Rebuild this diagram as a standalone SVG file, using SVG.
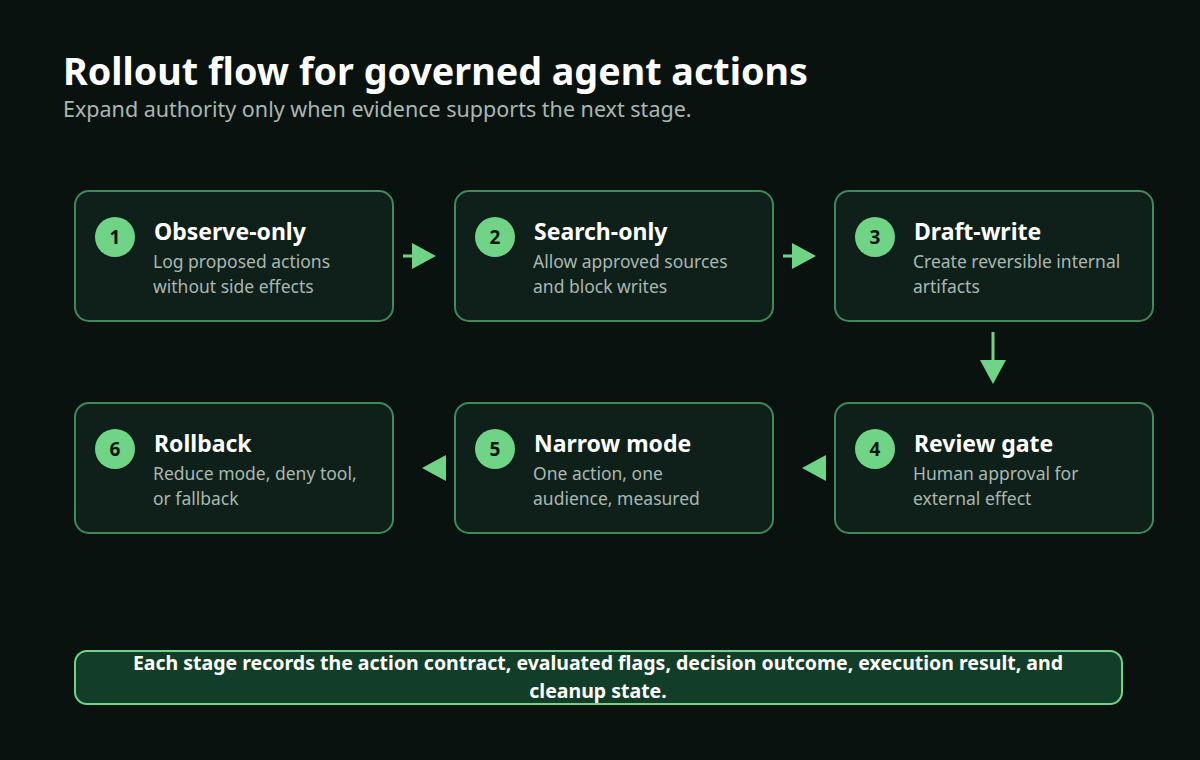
<svg xmlns="http://www.w3.org/2000/svg" width="1200" height="760" viewBox="0 0 1200 760">
<defs>
<style>
.box{fill:#0f1f1a;stroke:#3f8a5a;stroke-width:2}
.num{fill:#6fd485}
.nt{font:bold 19px "Noto Sans",sans-serif;fill:#0a1410;text-anchor:middle}
.t{font:bold 23px "Noto Sans",sans-serif;fill:#ffffff}
.d{font:17.5px "Noto Sans",sans-serif;fill:#a9b8b0}
.c{stroke:#6fd485;stroke-width:3;fill:none}
.h{fill:#6fd485}
</style>
</defs>
<rect width="1200" height="760" fill="#0a1210"/>
<text x="63" y="85" font-family="Noto Sans,sans-serif" font-weight="bold" font-size="37.7" fill="#ffffff">Rollout flow for governed agent actions</text>
<text x="63" y="117" font-family="Noto Sans,sans-serif" font-size="21.5" fill="#a9b8b0">Expand authority only when evidence supports the next stage.</text>
<g id="n1"><rect class="box" x="75" y="191" width="318" height="130" rx="14"/><circle class="num" cx="115" cy="237" r="20"/><text class="nt" x="115" y="244">1</text><text class="t" x="154" y="240">Observe-only</text><text class="d" x="153" y="268">Log proposed actions</text><text class="d" x="153" y="293">without side effects</text></g>
<g id="n2"><rect class="box" x="455" y="191" width="318" height="130" rx="14"/><circle class="num" cx="495" cy="237" r="20"/><text class="nt" x="495" y="244">2</text><text class="t" x="534" y="240">Search-only</text><text class="d" x="533" y="268">Allow approved sources</text><text class="d" x="533" y="293">and block writes</text></g>
<g id="n3"><rect class="box" x="835" y="191" width="318" height="130" rx="14"/><circle class="num" cx="875" cy="237" r="20"/><text class="nt" x="875" y="244">3</text><text class="t" x="914" y="240">Draft-write</text><text class="d" x="913" y="268">Create reversible internal</text><text class="d" x="913" y="293">artifacts</text></g>
<g id="n4"><rect class="box" x="835" y="403" width="318" height="130" rx="14"/><circle class="num" cx="875" cy="449" r="20"/><text class="nt" x="875" y="456">4</text><text class="t" x="914" y="452">Review gate</text><text class="d" x="913" y="480">Human approval for</text><text class="d" x="913" y="505">external effect</text></g>
<g id="n5"><rect class="box" x="455" y="403" width="318" height="130" rx="14"/><circle class="num" cx="495" cy="449" r="20"/><text class="nt" x="495" y="456">5</text><text class="t" x="534" y="452">Narrow mode</text><text class="d" x="533" y="480">One action, one</text><text class="d" x="533" y="505">audience, measured</text></g>
<g id="n6"><rect class="box" x="75" y="403" width="318" height="130" rx="14"/><circle class="num" cx="115" cy="449" r="20"/><text class="nt" x="115" y="456">6</text><text class="t" x="154" y="452">Rollback</text><text class="d" x="153" y="480">Reduce mode, deny tool,</text><text class="d" x="153" y="505">or fallback</text></g>
<g id="connectors">
<line class="c" x1="403" y1="256" x2="414" y2="256"/><path class="h" d="M412,243 L436,256 L412,269 z"/>
<line class="c" x1="783" y1="256" x2="794" y2="256"/><path class="h" d="M792,243 L816,256 L792,269 z"/>
<line class="c" x1="993" y1="332" x2="993" y2="362"/><path class="h" d="M980,360 L993,384 L1006,360 z"/>
<path class="h" d="M826,455 L802,468 L826,481 z"/>
<path class="h" d="M446,455 L422,468 L446,481 z"/>
</g>
<g id="footer"><rect x="75" y="651" width="1047" height="53" rx="12" fill="#123d29" stroke="#6fd485" stroke-width="2"/>
<text font-family="Noto Sans,sans-serif" font-weight="bold" font-size="19.5" fill="#ffffff" text-anchor="middle"><tspan x="598" y="670">Each stage records the action contract, evaluated flags, decision outcome, execution result, and</tspan><tspan x="598" y="698">cleanup state.</tspan></text></g>
</svg>
